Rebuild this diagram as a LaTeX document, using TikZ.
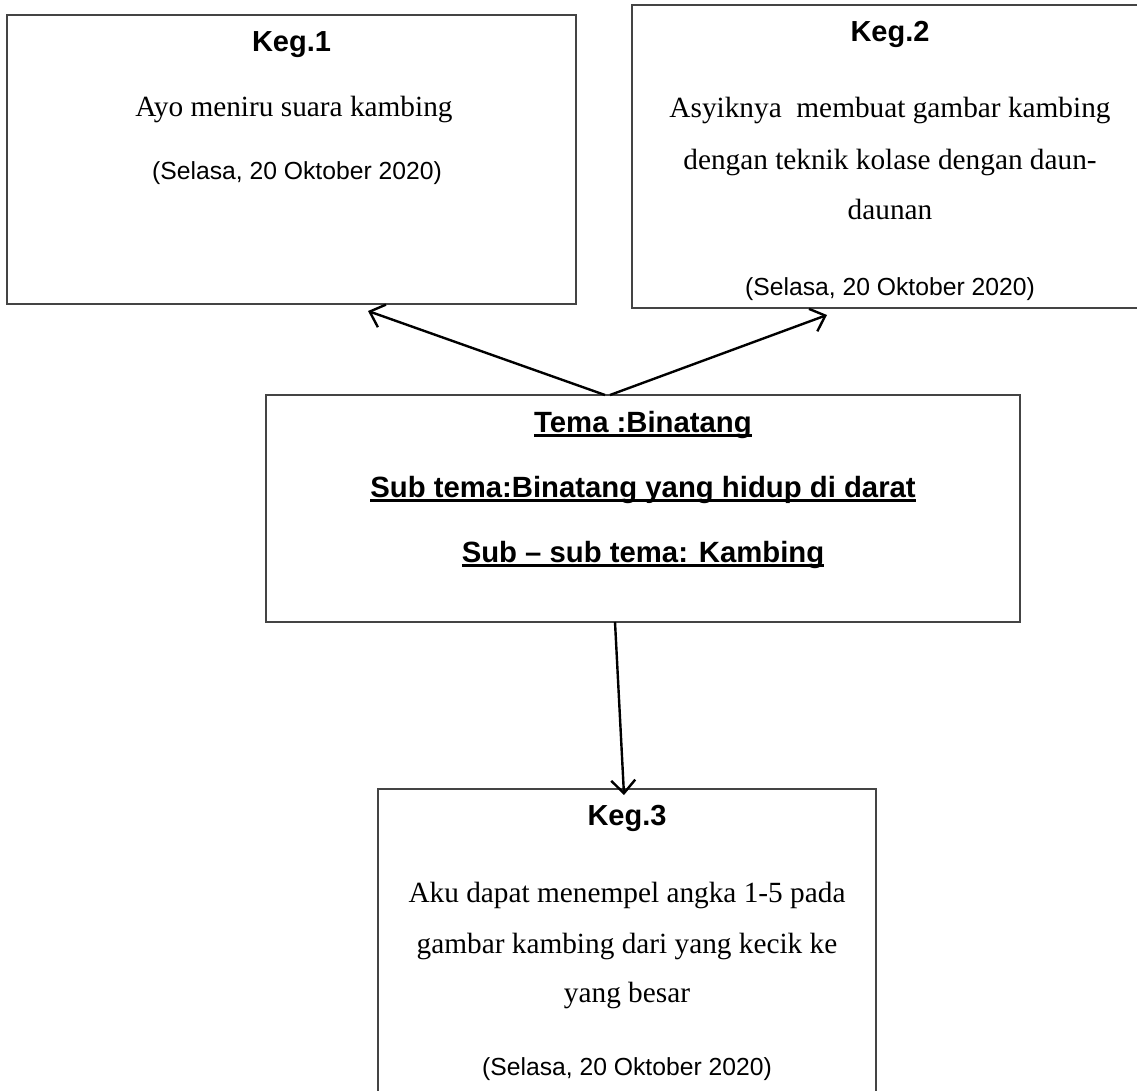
\documentclass[tikz,border=0pt]{standalone}
\usepackage{fontspec}
\setmainfont{Liberation Serif}
\newfontfamily\arialf{Liberation Sans}
\usetikzlibrary{arrows.meta}
\newsavebox{\myulbox}
\newcommand{\myul}[1]{\sbox{\myulbox}{#1}\rlap{\rule[-4.5pt]{\wd\myulbox}{2.2pt}}\usebox{\myulbox}}
\definecolor{boxgray}{HTML}{444444}
\tikzset{
  kbox/.style={draw=boxgray, line width=1.3pt, rectangle, inner sep=0pt, fill=none},
  ttl/.style={anchor=base, font=\arialf\bfseries\fontsize{29}{34}\selectfont, inner sep=0pt},
  body/.style={anchor=base, font=\fontsize{29.3}{34}\selectfont, inner sep=0pt},
  datetxt/.style={anchor=base, font=\arialf\fontsize{24.7}{30}\selectfont, inner sep=0pt},
  tema/.style={anchor=base, font=\arialf\bfseries\fontsize{29.3}{34}\selectfont, inner sep=0pt},
  conn/.style={draw=black, line width=2.4pt, -{Straight Barb[length=13pt,width=24pt,line width=2.4pt]}}
}
\begin{document}
\begin{tikzpicture}[x=1pt,y=-1pt]
\useasboundingbox (0,0) rectangle (1137,1091);
\clip (0,0) rectangle (1137,1091);
% boxes
\node[kbox, minimum width=569pt, minimum height=289pt] (k1) at (291.5,159.5) {};
\node[kbox, minimum width=516pt, minimum height=303pt] (k2) at (890,156.5) {};
\node[kbox, minimum width=754pt, minimum height=227pt] (cb) at (643,508.5) {};
\node[kbox, minimum width=498pt, minimum height=321pt] (k3) at (627,949.5) {};
% box 1 text
\node[ttl] (k1t) at (291.5,52) {Keg.1};
\node[body] (k1a) at (294,117) {Ayo meniru suara kambing};
\node[datetxt] (k1d) at (297,180) {(Selasa, 20 Oktober 2020)};
% box 2 text
\node[ttl] (k2t) at (890,42) {Keg.2};
\node[body] (k2a) at (890,118) {Asyiknya\ \ membuat gambar kambing};
\node[body] (k2b) at (890,170) {dengan teknik kolase dengan daun-};
\node[body] (k2c) at (890,220) {daunan};
\node[datetxt] (k2d) at (890,295) {(Selasa, 20 Oktober 2020)};
% centre text
\node[tema] (c1) at (643,432) {\myul{Tema :Binatang}};
\node[tema] (c2) at (643,497) {\myul{Sub tema:Binatang yang hidup di darat}};
\node[tema] (c3) at (643,562) {\myul{Sub – sub tema: Kambing}};
% box 3 text
\node[ttl] (k3t) at (627,825) {Keg.3};
\node[body] (k3a) at (627,902) {Aku dapat menempel angka 1-5 pada};
\node[body] (k3b) at (627,953) {gambar kambing dari yang kecik ke};
\node[body] (k3c) at (627,1002) {yang besar};
\node[datetxt] (k3d) at (627,1075) {(Selasa, 20 Oktober 2020)};
% connectors
\coordinate (s1) at (605,395);
\coordinate (s2) at (610,395);
\coordinate (s3) at (615,622);
\coordinate (e1) at (368,311);
\coordinate (e2) at (827,315);
\coordinate (e3) at (624,795);
\draw[conn] (s1) -- (e1);
\draw[conn] (s2) -- (e2);
\draw[conn] (s3) -- (e3);
\end{tikzpicture}
\end{document}
